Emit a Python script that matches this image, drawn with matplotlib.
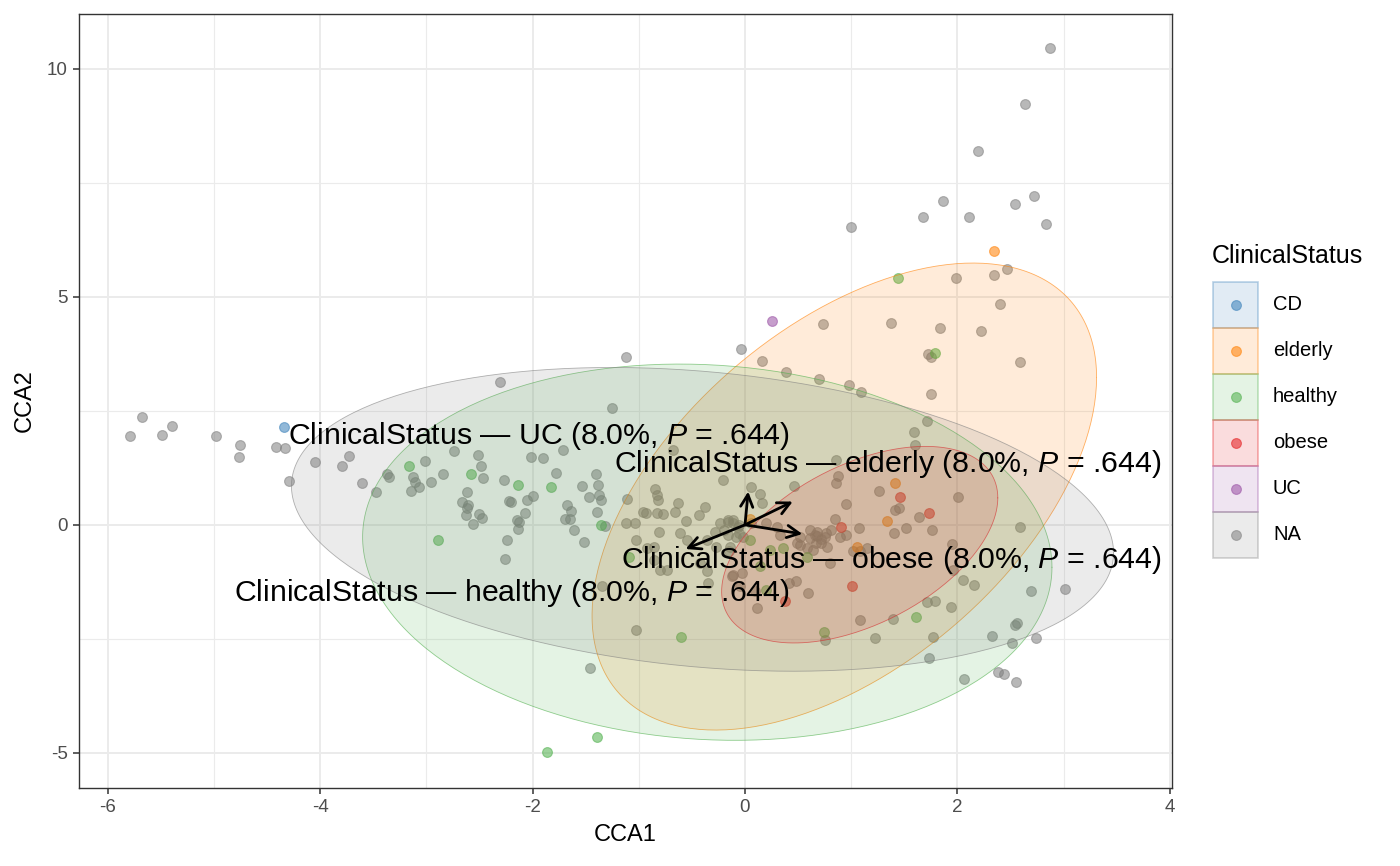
import numpy as np
import matplotlib
matplotlib.use("Agg")
import matplotlib.pyplot as plt
from matplotlib.patches import Rectangle

plt.rcParams['font.family'] = ['Liberation Sans', 'DejaVu Sans']
plt.rcParams['mathtext.fontset'] = 'custom'
plt.rcParams['mathtext.rm'] = 'Liberation Sans'
plt.rcParams['mathtext.it'] = 'Liberation Sans:italic'
plt.rcParams['axes.unicode_minus'] = False

# ---- data ----
groups = ['CD', 'elderly', 'healthy', 'obese', 'UC', 'NA']
colors = ['#377EB8', '#FF7F00', '#4DAF4A', '#E41A1C', '#984EA3', '#7F7F7F']

cd_x = [-4.34]
cd_y = [2.14]

uc_x = [0.25]
uc_y = [4.47]

elderly_x = [2.34, 1.41, 1.34, 1.05, 0.05]
elderly_y = [6.00, 0.91, 0.09, -0.48, 0.12]

obese_x = [1.46, 1.73, 0.90, 1.01, 0.38]
obese_y = [0.61, 0.26, -0.05, -1.35, -1.68]

healthy_x = [1.44, 1.79, -3.16, -2.89, -2.58, -2.14, -1.83, -1.36, -1.09, -0.60,
             0.74, 1.61, -1.86, -1.39, 0.24, 0.36, 0.05, 0.58, 0.20, 0.14]
healthy_y = [5.42, 3.77, 1.28, -0.34, 1.11, 0.88, 0.83, 0.00, -0.70, -2.45,
             -2.34, -2.01, -4.98, -4.65, -0.55, -0.51, -0.33, -0.70, -1.43, -0.91]

na_x = [
    # top right
    2.87, 2.64, 2.19, 1.86, 2.72, 2.54, 1.68, 2.11, 2.83, 1.00, 1.99, 2.34, 2.47, 2.40,
    0.73, 1.37, 1.84, 2.22, 1.72, 1.75, 2.59, 0.16, 0.39, 0.70, 0.98, 1.09, 1.75, 1.71,
    1.59, 1.60,
    # left
    -5.68, -5.79, -5.49, -5.39, -4.98, -4.75, -4.76, -4.42, -4.33, -4.29, -4.05, -3.79,
    -3.73, -3.61, -3.47, -3.37, -3.35, -3.01, -2.74, -2.84, -3.13, -3.11, -3.07, -3.14,
    -2.96, -2.62, -2.66, -2.61, -2.62, -2.63, -2.56, -2.51, -2.49, -2.47, -2.50, -2.48,
    -2.27, -2.22, -2.20, -2.05, -2.00, -2.07, -2.15, -2.13, -2.14, -2.24, -2.26, -2.01,
    -1.90, -1.78, -2.31, -1.12, -0.04, -1.25, -1.71,
    # centre
    -1.53, -1.40, -1.38, -1.37, -1.36, -1.47, -1.68, -1.64, -1.65, -1.69, -1.39, -1.61,
    -1.52, -1.32, -1.11, -0.85, -0.83, -0.82, -0.68, -0.96, -0.93, -0.83, -0.77, -1.12,
    -1.04, -0.81, -1.03, -0.92, -0.63, -0.66, -0.56, -0.61, -0.43, -0.38, -0.21, 0.06,
    0.14, 0.16, 0.46, 0.86, 0.88, 0.86, -0.28, -0.24, -0.16, -0.11, -0.07, -0.06,
    -0.02, -0.86, -0.80, -0.73, -0.86, -0.42, -0.36, -0.35, -1.35, -1.03, -0.12, -0.05,
    0.75, 0.59, 0.48, 0.61, 0.68, 0.76, 0.68, 0.61, 0.52, 0.49, 0.77, 0.80,
    -0.15, -0.11, -0.06, 0.06, -0.16, -0.20, -0.16, -0.08, -0.36, -0.27, -0.14, -0.55,
    0.20, 0.30, 0.33, 0.66, 0.75, 0.52, 0.58, 0.64, 0.67, 0.09, 0.11, -0.11,
    -0.03, -1.46, 0.41,
    # right
    1.26, 0.95, 1.41, 1.45, 1.64, 2.01, 0.85, 1.07, 0.89, 0.95, 1.52, 1.76,
    1.40, 0.81, 0.72, 0.72, 1.02, 1.08, 1.15, 2.59, 1.95, 1.96, 2.05, 2.16,
    2.69, 3.01, 1.71, 1.79, 1.94, 1.39, 1.08, 1.22, 1.77, 2.33, 2.51, 2.54,
    2.56, 2.74, 1.73, 2.06, 2.38, 2.44, 2.55,
]
na_y = [
    10.45, 9.22, 8.19, 7.11, 7.22, 7.03, 6.74, 6.74, 6.59, 6.52, 5.42, 5.48, 5.60, 4.85,
    4.41, 4.43, 4.32, 4.26, 3.74, 3.68, 3.57, 3.60, 3.36, 3.20, 3.06, 2.92, 2.86, 2.28,
    2.04, 1.74,
    2.37, 1.94, 1.96, 2.16, 1.94, 1.74, 1.48, 1.71, 1.68, 0.96, 1.37, 1.30,
    1.50, 0.91, 0.73, 1.11, 1.04, 1.41, 1.62, 1.12, 1.04, 0.95, 0.84, 0.75,
    0.93, 0.71, 0.51, 0.44, 0.37, 0.22, 0.02, 1.54, 1.29, 1.03, 0.23, 0.15,
    0.99, 0.52, 0.50, 0.55, 0.63, 0.25, 0.11, 0.07, -0.09, -0.34, -0.75, 1.49,
    1.46, 1.13, 3.14, 3.69, 3.86, 2.56, 1.63,
    0.85, 1.12, 0.88, 0.66, 0.55, 0.62, 0.44, 0.31, 0.13, 0.12, 0.29, -0.12,
    -0.38, -0.02, 0.56, 0.78, 0.66, 0.55, 1.64, 0.29, 0.27, 0.26, 0.24, 0.04,
    0.04, -0.16, -0.34, -0.51, 0.48, 0.29, 0.09, -0.18, 0.22, 0.40, 0.98, 0.83,
    0.67, 0.48, 0.86, 1.43, 1.07, 0.91, -0.15, 0.04, 0.07, 0.04, -0.04, -0.18,
    -0.26, -0.77, -0.99, -0.99, -0.48, -0.84, -1.02, -1.28, -1.35, -2.30, -1.13, -1.35,
    -2.52, -1.50, -1.24, -0.11, -0.15, -0.18, -0.24, -0.29, -0.26, -0.40, -0.48, -0.84,
    -0.58, 0.11, 0.00, 0.04, 0.11, -0.11, -0.22, -0.26, -0.33, -0.48, -0.48, -0.33,
    0.04, -0.04, -0.22, -0.22, -0.26, -0.44, -0.51, -0.55, -0.40, -1.46, -1.83, -1.10,
    -1.06, -3.13, -1.28,
    0.75, 0.45, 0.33, 0.36, 0.18, 0.61, 0.12, -0.08, -0.26, -0.22, -0.07, -0.11,
    -0.18, -0.12, -0.30, -0.40, -0.58, -0.58, -0.51, -0.04, -0.42, -0.99, -1.21, -1.32,
    -1.46, -1.41, -1.70, -1.66, -1.81, -2.06, -2.08, -2.49, -2.45, -2.43, -2.58, -2.19,
    -2.16, -2.49, -2.91, -3.37, -3.22, -3.27, -3.44,
]

# ellipses (centre, half extent in x and y, correlation)
ell_groups = ['elderly', 'healthy', 'obese', 'NA']
ell_cx = [0.935, -0.355, 1.08, -0.40]
ell_cy = [0.62, -0.60, -0.435, 0.12]
ell_ax = [2.375, 3.245, 1.30, 3.87]
ell_ay = [5.12, 4.125, 2.155, 3.33]
ell_r = [0.51, -0.08, 0.476, -0.22]

# biplot arrows
arrow_dx = [0.03, 0.45, 0.54, -0.56]
arrow_dy = [0.73, 0.51, -0.20, -0.53]

label_text = ['UC', 'elderly', 'obese', 'healthy']
label_x = [0.42, 3.92, 3.92, 0.42]
label_y = [1.78, 1.15, -0.95, -1.68]

# ---- figure ----
fig = plt.figure(figsize=(14, 8.66), dpi=100)
ax = fig.add_axes([79 / 1400, 1 - 788 / 866, (1172 - 79) / 1400, (788 - 14) / 866])

ax.set_xlim(-6.27, 4.02)
ax.set_ylim(-5.77, 11.2)
ax.set_xticks([-6, -4, -2, 0, 2, 4])
ax.set_yticks([-5, 0, 5, 10])
ax.set_xticks(np.arange(-5, 4, 2), minor=True)
ax.set_yticks([-2.5, 2.5, 7.5], minor=True)
ax.grid(True, which='major', color='#EBEBEB', lw=1.4)
ax.grid(True, which='minor', color='#EBEBEB', lw=0.85)
ax.tick_params(which='minor', length=0)
ax.tick_params(which='major', length=4, width=1.1, color='#333333',
               labelsize=13.5, labelcolor='#4D4D4D', pad=4)
ax.set_axisbelow(True)
for s in ax.spines.values():
    s.set_color('#333333')
    s.set_linewidth(1.0)

ax.set_xlabel('CCA1', fontsize=17, labelpad=6)
ax.set_ylabel('CCA2', fontsize=17, labelpad=8)

pt_x = {'CD': cd_x, 'elderly': elderly_x, 'healthy': healthy_x,
        'obese': obese_x, 'UC': uc_x, 'NA': na_x}
pt_y = {'CD': cd_y, 'elderly': elderly_y, 'healthy': healthy_y,
        'obese': obese_y, 'UC': uc_y, 'NA': na_y}
col = dict(zip(groups, colors))

for g in ['NA', 'CD', 'elderly', 'healthy', 'obese', 'UC']:
    ax.scatter(pt_x[g], pt_y[g], s=50, color=col[g], alpha=0.55, lw=0.8, zorder=2)

t = np.linspace(0, 2 * np.pi, 300)
for g, cx, cy, a, b, r in zip(ell_groups, ell_cx, ell_cy, ell_ax, ell_ay, ell_r):
    ex = cx + a * np.cos(t)
    ey = cy + b * (r * np.cos(t) + np.sqrt(1 - r ** 2) * np.sin(t))
    ax.fill(ex, ey, facecolor=col[g], alpha=0.15, lw=0, zorder=3)
    ax.plot(ex, ey, color=col[g], alpha=0.6, lw=0.6, zorder=3)

for dx, dy in zip(arrow_dx, arrow_dy):
    ax.annotate('', xy=(dx, dy), xytext=(0, 0),
                arrowprops=dict(arrowstyle='->', color='black', lw=2,
                                mutation_scale=22, shrinkA=0, shrinkB=0),
                zorder=5)

for lab, lx, ly in zip(label_text, label_x, label_y):
    ax.text(lx, ly, 'ClinicalStatus \u2014 ' + lab + r' (8.0%, $\mathit{P}$ = .644)',
            ha='right', va='baseline', fontsize=21.8, color='black', zorder=6)

# ---- legend ----
lax = fig.add_axes([0, 0, 1, 1])
lax.set_xlim(0, 1400)
lax.set_ylim(866, 0)
lax.axis('off')
lax.text(1212, 256, 'ClinicalStatus', fontsize=18, va='center', ha='left')
key_h = 46
for i, g in enumerate(groups):
    y0 = 282 + i * key_h
    lax.add_patch(Rectangle((1213, y0), 45, key_h, facecolor=col[g], alpha=0.15, lw=0))
    lax.add_patch(Rectangle((1213, y0), 45, key_h, facecolor='none',
                            edgecolor=col[g], alpha=0.35, lw=1.2))
    lax.scatter([1235.5], [y0 + key_h / 2], s=50, color=col[g], alpha=0.55, lw=0.8)
    lax.text(1273, y0 + key_h / 2, g, fontsize=14.5, va='center', ha='left', color='black')

fig.savefig('out.png', dpi=100)
